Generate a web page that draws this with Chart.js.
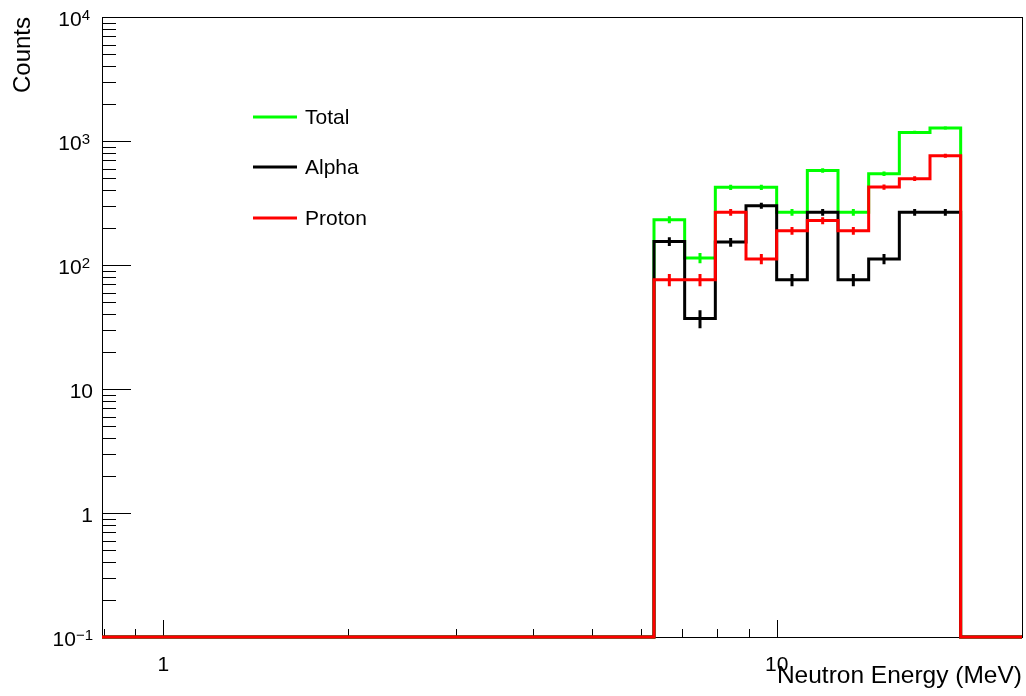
<!DOCTYPE html>
<html>
<head>
<meta charset="utf-8">
<script src="https://cdn.jsdelivr.net/npm/chart.js@4.4.1/dist/chart.umd.min.js"></script>
<style>
  html, body { margin: 0; padding: 0; background: #fff; }
  canvas { display: block; }
</style>
</head>
<body>
<canvas id="histChart" width="1026" height="696"></canvas>
<script>
// 30 log-spaced bins, 10^-0.1 .. 10^1.4 MeV (0.05 decade per bin)
const logLow = -0.1;
const logStep = 0.05;
const nBins = 30;

const totalCounts  = [0,0,0,0,0,0,0,0,0,0,0,0,0,0,0,0,0,0, 232, 114, 423, 423, 266, 579, 266, 545, 1173, 1273, 0, 0];
const alphaCounts  = [0,0,0,0,0,0,0,0,0,0,0,0,0,0,0,0,0,0, 155,  37, 153, 301,  76, 266,  76, 112,  266,  266, 0, 0];
const protonCounts = [0,0,0,0,0,0,0,0,0,0,0,0,0,0,0,0,0,0,  76,  76, 266, 112, 189, 228, 189, 426,  497,  761, 0, 0];

const legendNames = ['Total', 'Alpha', 'Proton'];
const yDecades = [-1, 0, 1, 2, 3, 4];

const yMin = 0.1, yMax = 10000;
const font = 'Liberation Sans, Arial, Helvetica, sans-serif';

const edges = [];
for (let i = 0; i <= nBins; i++) edges.push(Math.pow(10, logLow + i * logStep));

// histogram outline: one point per lower bin edge, empty bins sit on the axis floor
function histPoints(counts) {
    const pts = counts.map((c, i) => ({ x: edges[i], y: Math.max(c, yMin) }));
    pts.push({ x: edges[nBins], y: Math.max(counts[nBins - 1], yMin) });
    return pts;
}

function histDataset(label, counts, color, order) {
    return {
        label: label,
        data: histPoints(counts),
        counts: counts,
        borderColor: color,
        borderWidth: 3,
        pointRadius: 0,
        stepped: true,
        fill: false,
        clip: false,
        borderJoinStyle: 'miter',
        order: order
    };
}

const rootStyle = {
    id: 'rootStyle',
    beforeDatasetsDraw(chart) {
        const { ctx, chartArea: a, scales: { x, y } } = chart;
        ctx.save();
        ctx.strokeStyle = '#000';
        ctx.lineWidth = 1;
        ctx.strokeRect(a.left + 0.5, a.top + 0.5, a.right - a.left, a.bottom - a.top);

        ctx.beginPath();
        for (let e = -1; e <= 3; e++) {
            for (let k = 1; k <= 9; k++) {
                const py = Math.round(y.getPixelForValue(k * Math.pow(10, e))) + 0.5;
                ctx.moveTo(a.left, py);
                ctx.lineTo(a.left + (k === 1 ? 29 : 14), py);
            }
        }
        for (let e = -1; e <= 1; e++) {
            for (let k = 1; k <= 9; k++) {
                const v = k * Math.pow(10, e);
                if (v < x.min || v > x.max) continue;
                const px = Math.round(x.getPixelForValue(v)) + 0.5;
                ctx.moveTo(px, a.bottom);
                ctx.lineTo(px, a.bottom - (k === 1 ? 17 : 8));
            }
        }
        ctx.stroke();

        // y labels with superscript exponents
        ctx.fillStyle = '#000';
        ctx.textBaseline = 'alphabetic';
        ctx.textAlign = 'right';
        const labelRight = a.left - 9;
        yDecades.forEach(p => {
            const py = y.getPixelForValue(Math.pow(10, p));
            const base = py + 8.5;
            if (p === 0 || p === 1) {
                ctx.font = '21px ' + font;
                ctx.fillText(p === 0 ? '1' : '10', labelRight, base);
            } else {
                const sup = p < 0 ? '\u2212' + (-p) : String(p);
                ctx.font = '15px ' + font;
                const w = ctx.measureText(sup).width;
                ctx.fillText(sup, labelRight - (p > 0 ? 3 : 0), base - 6);
                ctx.font = '21px ' + font;
                ctx.fillText('10', labelRight - w - (p > 0 ? 3 : 0), base);
            }
        });
        ctx.restore();
    },
    afterDatasetDraw(chart, args) {
        const ds = chart.data.datasets[args.index];
        const { ctx, scales: { x, y } } = chart;
        ctx.save();
        ctx.strokeStyle = ds.borderColor;
        ctx.lineWidth = ds.borderWidth;
        ctx.beginPath();
        ds.counts.forEach((n, i) => {
            if (n <= 0) return;
            const err = Math.sqrt(n);
            const px = x.getPixelForValue(Math.pow(10, logLow + (i + 0.5) * logStep));
            ctx.moveTo(px, y.getPixelForValue(n + err));
            ctx.lineTo(px, y.getPixelForValue(Math.max(n - err, yMin)));
        });
        ctx.stroke();
        ctx.restore();
    },
    afterDatasetsDraw(chart) {
        const { ctx } = chart;
        const rows = [117, 167, 218];
        ctx.save();
        ctx.font = '21px ' + font;
        ctx.textBaseline = 'middle';
        ctx.textAlign = 'left';
        legendNames.forEach((name, i) => {
            const ds = chart.data.datasets.find(d => d.label === name);
            ctx.strokeStyle = ds.borderColor;
            ctx.lineWidth = 3;
            ctx.beginPath();
            ctx.moveTo(253, rows[i]);
            ctx.lineTo(297, rows[i]);
            ctx.stroke();
            ctx.fillStyle = '#000';
            ctx.fillText(name, 305, rows[i] + 1);
        });
        ctx.restore();
    }
};

const ctx = document.getElementById('histChart').getContext('2d');
const chart = new Chart(ctx, {
    type: 'line',
    data: {
        datasets: [
            histDataset('Total', totalCounts, '#00ff00', 3),
            histDataset('Alpha', alphaCounts, '#000000', 2),
            histDataset('Proton', protonCounts, '#ff0000', 1)
        ]
    },
    options: {
        responsive: false,
        animation: false,
        devicePixelRatio: 1,
        layout: { padding: { top: 17, right: 4, left: 0, bottom: 0 } },
        plugins: { legend: { display: false }, tooltip: { enabled: false } },
        scales: {
            x: {
                type: 'logarithmic',
                min: Math.pow(10, logLow),
                max: Math.pow(10, logLow + nBins * logStep),
                grid: { display: false },
                border: { display: false },
                ticks: {
                    autoSkip: false,
                    maxRotation: 0,
                    padding: 8,
                    color: '#000',
                    font: { family: font, size: 21 },
                    callback: v => Math.abs(v - 1) < 1e-6 ? '1' : (Math.abs(v - 10) < 1e-6 ? '10' : '')
                },
                title: {
                    display: true,
                    text: 'Neutron Energy (MeV)',
                    align: 'end',
                    color: '#000',
                    font: { family: font, size: 24.5 },
                    padding: { top: 0, bottom: 5 }
                },
                afterFit: s => {
                    s.height = 59;
                    s.paddingLeft = 0;
                    s.paddingRight = 0;
                }
            },
            y: {
                type: 'logarithmic',
                min: yMin,
                max: yMax,
                grid: { display: false },
                border: { display: false },
                ticks: { display: false },
                title: {
                    display: true,
                    text: 'Counts',
                    align: 'end',
                    color: '#000',
                    font: { family: font, size: 24 },
                    padding: { top: 9, bottom: 0 }
                },
                afterFit: s => { s.width = 102; }
            }
        }
    },
    plugins: [rootStyle]
});
</script>
</body>
</html>
